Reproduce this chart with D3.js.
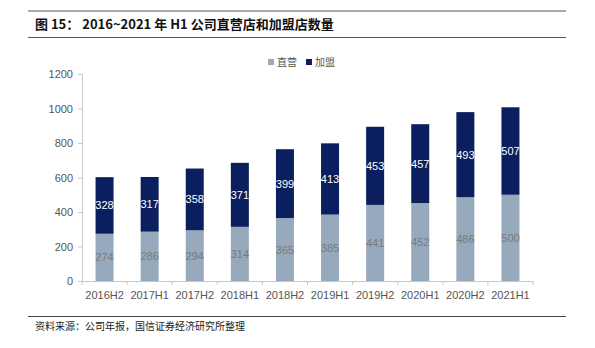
<!doctype html>
<html lang="zh">
<head>
<meta charset="utf-8">
<script src="https://d3js.org/d3.v7.min.js"></script>
<style>
  body { margin: 0; padding: 0; background: #fff; }
  svg text { font-family: "Liberation Sans", Arial, sans-serif; }
  .cjk { font-family: "Noto Sans CJK SC", sans-serif; }
</style>
</head>
<body>
<div id="chart"></div>
<script>
// data
var periods = ["2016H2", "2017H1", "2017H2", "2018H1", "2018H2", "2019H1", "2019H2", "2020H1", "2020H2", "2021H1"];
var direct = [274, 286, 294, 314, 365, 385, 441, 452, 486, 500];
var franchise = [328, 317, 358, 371, 399, 413, 453, 457, 493, 507];
var yTicks = [0, 200, 400, 600, 800, 1000, 1200];
var seriesNames = ["直营", "加盟"];

var width = 595, height = 348;
var colors = ["#97a9bc", "#0b1f5e"];

var svg = d3.select("#chart").append("svg")
    .attr("width", width)
    .attr("height", height);

// title block
svg.append("line").attr("x1", 28).attr("x2", 566).attr("y1", 11).attr("y2", 11)
    .attr("stroke", "#555").attr("stroke-width", 1);
svg.append("line").attr("x1", 28).attr("x2", 566).attr("y1", 37.5).attr("y2", 37.5)
    .attr("stroke", "#555").attr("stroke-width", 1);
svg.append("text").attr("class", "cjk")
    .attr("x", 35).attr("y", 29)
    .attr("font-size", 13).attr("font-weight", "bold").attr("fill", "#111")
    .text("图 15： 2016~2021 年 H1 公司直营店和加盟店数量");

// source block
svg.append("line").attr("x1", 28).attr("x2", 566).attr("y1", 316.5).attr("y2", 316.5)
    .attr("stroke", "#444").attr("stroke-width", 1);
svg.append("text").attr("class", "cjk")
    .attr("x", 35).attr("y", 330)
    .attr("font-size", 10).attr("fill", "#222")
    .text("资料来源：公司年报，国信证券经济研究所整理");

var x = d3.scaleBand().domain(periods).range([82, 533]).paddingInner(0.6).paddingOuter(0.3);
var y = d3.scaleLinear().domain([0, 1200]).range([281, 74]);

// axes
var yAxis = svg.append("g").attr("transform", "translate(82,0)")
    .call(d3.axisLeft(y).tickValues(yTicks).tickFormat(d3.format("d")).tickSize(4).tickPadding(5));
var xAxis = svg.append("g").attr("transform", "translate(0,281)")
    .call(d3.axisBottom(x).tickSize(0).tickPadding(10));

[yAxis, xAxis].forEach(function (g) {
    g.selectAll("path.domain").attr("stroke", "#c8c8c8");
    g.selectAll(".tick line").attr("stroke", "#c8c8c8");
    g.selectAll("text").attr("fill", "#555").attr("font-size", 11)
        .attr("font-family", "Liberation Sans, Arial, sans-serif");
});

// x tick marks between categories
d3.range(periods.length + 1).forEach(function (i) {
    var xp = 82 + i * (451 / periods.length);
    svg.append("line").attr("x1", xp).attr("x2", xp).attr("y1", 281).attr("y2", 285)
        .attr("stroke", "#c8c8c8");
});

// stacked bars
var rows = periods.map(function (p, i) { return { p: p, a: direct[i], b: franchise[i] }; });
var bw = 18;

svg.append("g").selectAll("rect.direct").data(rows).enter().append("rect")
    .attr("x", function (d) { return x(d.p) + x.bandwidth() / 2 - bw / 2; })
    .attr("y", function (d) { return y(d.a); })
    .attr("width", bw)
    .attr("height", function (d) { return y(0) - y(d.a); })
    .attr("fill", colors[0]);

svg.append("g").selectAll("rect.fr").data(rows).enter().append("rect")
    .attr("x", function (d) { return x(d.p) + x.bandwidth() / 2 - bw / 2; })
    .attr("y", function (d) { return y(d.a + d.b); })
    .attr("width", bw)
    .attr("height", function (d) { return y(d.a) - y(d.a + d.b); })
    .attr("fill", colors[1]);

// value labels
svg.append("g").selectAll("text").data(rows).enter().append("text")
    .attr("x", function (d) { return x(d.p) + x.bandwidth() / 2; })
    .attr("y", function (d) { return y(d.a / 2) + 4; })
    .attr("text-anchor", "middle").attr("font-size", 11).attr("fill", "#7a7a7a")
    .text(function (d) { return d.a; });

svg.append("g").selectAll("text").data(rows).enter().append("text")
    .attr("x", function (d) { return x(d.p) + x.bandwidth() / 2; })
    .attr("y", function (d) { return y(d.a + d.b / 2) + 4; })
    .attr("text-anchor", "middle").attr("font-size", 11).attr("fill", "#fff")
    .text(function (d) { return d.b; });

// legend
var legend = svg.append("g");
var lx = [268, 306];
seriesNames.forEach(function (n, i) {
    legend.append("rect").attr("x", lx[i]).attr("y", 59).attr("width", 6).attr("height", 6)
        .attr("fill", colors[i]);
    legend.append("text").attr("class", "cjk").attr("x", lx[i] + 9).attr("y", 66)
        .attr("font-size", 10).attr("fill", "#555").text(n);
});
</script>
</body>
</html>
